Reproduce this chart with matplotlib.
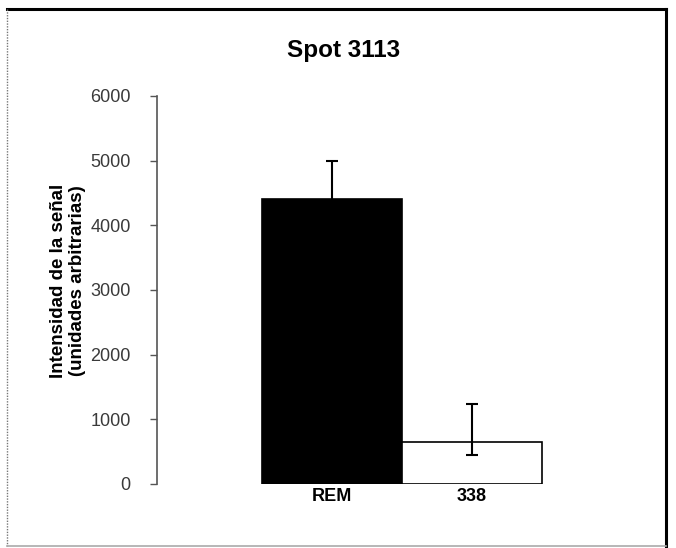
import matplotlib.pyplot as plt
from matplotlib.lines import Line2D

plt.rcParams["font.family"] = ["Liberation Sans", "DejaVu Sans"]

# === Datos ===
grupos = ["REM", "338"]
intensidad = [4400, 650]
err_inf = [600, 200]
err_sup = [600, 590]
colores = ["black", "white"]

TITULO = "Spot 3113"
ETIQUETA_Y = "Intensidad de la señal\n(unidades arbitrarias)"
YTICKS = [0, 1000, 2000, 3000, 4000, 5000, 6000]

W, H = 676, 548
fig = plt.figure(figsize=(W / 100, H / 100), dpi=100)
fig.patch.set_facecolor("white")

# marco exterior
fig.add_artist(Line2D([7 / W, 666 / W], [1 - 9 / H, 1 - 9 / H], color="black", lw=2.2))
fig.add_artist(Line2D([666 / W, 666 / W], [1 - 9 / H, 1 - 546 / H], color="black", lw=2.2))
fig.add_artist(Line2D([7 / W, 7 / W], [1 - 9 / H, 1 - 546 / H], color="#777777", lw=1.0, ls=(0, (1, 1))))
fig.add_artist(Line2D([7 / W, 666 / W], [1 - 546 / H, 1 - 546 / H], color="#aaaaaa", lw=1.2))

ax = fig.add_axes([157 / W, 1 - 484 / H, (647 - 157) / W, (484 - 96) / H])

x = list(range(len(grupos)))
ax.bar(x, intensidad, width=1.0, color=colores, edgecolor="black", linewidth=1.2, zorder=2)
ax.errorbar(x, intensidad, yerr=[err_inf, err_sup], fmt="none", ecolor="black",
            elinewidth=1.5, capsize=4, capthick=1.5, zorder=3)

ax.set_xlim(-1.25, 2.25)
ax.set_ylim(0, 6000)
ax.set_yticks(YTICKS)
ax.set_yticklabels([str(v) for v in YTICKS], fontsize=13, color="#3a3a3a")
ax.set_xticks(x)
ax.set_xticklabels(grupos, fontsize=13, fontweight="bold")
ax.tick_params(axis="x", length=0, pad=3)
ax.tick_params(axis="y", direction="out", length=5, width=1, color="#555555", pad=14)

for lado in ["top", "right", "bottom"]:
    ax.spines[lado].set_visible(False)
ax.spines["left"].set_color("#555555")
ax.spines["left"].set_linewidth(1.2)

fig.text(68 / W, 1 - 281 / H, ETIQUETA_Y, rotation=90, ha="center", va="center",
         multialignment="center", fontsize=13.5, fontweight="bold", linespacing=1.15)
fig.text(344 / W, 1 - 50 / H, TITULO, ha="center", va="center", fontsize=17.5, fontweight="bold")

fig.savefig("out.png", dpi=100, facecolor="white")
